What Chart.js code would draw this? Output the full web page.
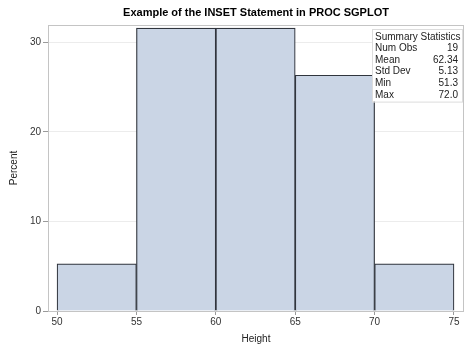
<!DOCTYPE html>
<html>
<head>
<meta charset="utf-8">
<script src="https://cdn.jsdelivr.net/npm/chart.js@4"></script>
<style>
  html, body { margin: 0; padding: 0; background: #fff; }
  #wrap { width: 474px; height: 355px; }
</style>
</head>
<body>
<div id="wrap"><canvas id="myChart" width="474" height="355"></canvas></div>
<script>
// histogram bins (midpoints) and percent per bin
const binMids = [52.5, 57.5, 62.5, 67.5, 72.5]
const percents = [5.26, 31.58, 31.58, 26.32, 5.26]

const statLabels = ["Num Obs", "Mean", "Std Dev", "Min", "Max"]
const statValues = ["19", "62.34", "5.13", "51.3", "72.0"]

const font = "'Liberation Sans', Arial, sans-serif"

// full frame around the plot area
const frame = {
    id: "frame",
    afterDatasetsDraw(chart) {
        const a = chart.chartArea
        const ctx = chart.ctx
        ctx.save()
        ctx.strokeStyle = "#c4c4c4"
        ctx.lineWidth = 1
        ctx.strokeRect(Math.round(a.left) + .5, Math.round(a.top) + .5, Math.round(a.right - a.left) - 1, Math.round(a.bottom - a.top))
        ctx.restore()
    }
}

// the inset box with summary statistics
const inset = {
    id: "inset",
    afterDraw(chart) {
        const a = chart.chartArea
        const ctx = chart.ctx
        const w = 90, lh = 11.6
        const h = lh * (statLabels.length + 1) + 3
        const x = a.right - w - 2, y = a.top + 4
        ctx.save()
        ctx.fillStyle = "#fff"
        ctx.fillRect(x, y, w, h)
        ctx.strokeStyle = "#dcdcdc"
        ctx.strokeRect(x + .5, y + .5, w, h)
        ctx.font = "10px " + font
        ctx.fillStyle = "#222"
        ctx.textBaseline = "middle"
        ctx.textAlign = "left"
        ctx.fillText("Summary Statistics", x + 3, y + 2 + lh / 2)
        statLabels.forEach((l, i) => {
            const yy = y + 2 + lh * (i + 1) + lh / 2
            ctx.textAlign = "left"
            ctx.fillText(l, x + 3, yy)
            ctx.textAlign = "right"
            ctx.fillText(statValues[i], x + w - 4, yy)
        })
        ctx.restore()
    }
}

const ctx = document.getElementById("myChart").getContext("2d")

new Chart(ctx, {
    type: "bar",
    data: {
        datasets: [{
            data: binMids.map((m, i) => ({x: m, y: percents[i]})),
            backgroundColor: "#cad5e5",
            borderColor: "#30353d",
            borderWidth: 1.2,
            barPercentage: 1,
            categoryPercentage: 1
        }]
    },
    options: {
        responsive: false,
        animation: false,
        layout: { padding: { left: 0, right: 10, top: 0, bottom: 0 } },
        plugins: {
            legend: { display: false },
            tooltip: { enabled: false },
            title: {
                display: true,
                fullSize: false,
                text: "Example of the INSET Statement in PROC SGPLOT",
                color: "#000",
                font: { family: font, size: 11, weight: "bold" },
                padding: { top: 6, bottom: 5.8 }
            }
        },
        scales: {
            x: {
                type: "linear",
                min: 49.43,
                max: 75.63,
                offset: false,
                afterFit: s => { s.height = 44 },
                ticks: { stepSize: 5, includeBounds: false, color: "#333", font: { family: font, size: 10 }, padding: 1.5, maxRotation: 0 },
                grid: { offset: false, drawOnChartArea: false, drawTicks: true, tickLength: 4, tickColor: "#9a9a9a" },
                border: { display: false },
                title: { display: true, text: "Height", color: "#222", font: { family: font, size: 10 }, padding: { top: 0, bottom: 10 } }
            },
            y: {
                min: 0,
                max: 31.93,
                afterFit: s => { s.width = 48 },
                ticks: { stepSize: 10, includeBounds: false, color: "#333", font: { family: font, size: 10 }, padding: 2 },
                grid: { color: "#ececec", tickColor: "#9a9a9a", tickLength: 5 },
                border: { display: false },
                title: { display: true, text: "Percent", color: "#222", font: { family: font, size: 10 }, padding: { top: 8, bottom: 0 } }
            }
        }
    },
    plugins: [frame, inset]
})
</script>
</body>
</html>
